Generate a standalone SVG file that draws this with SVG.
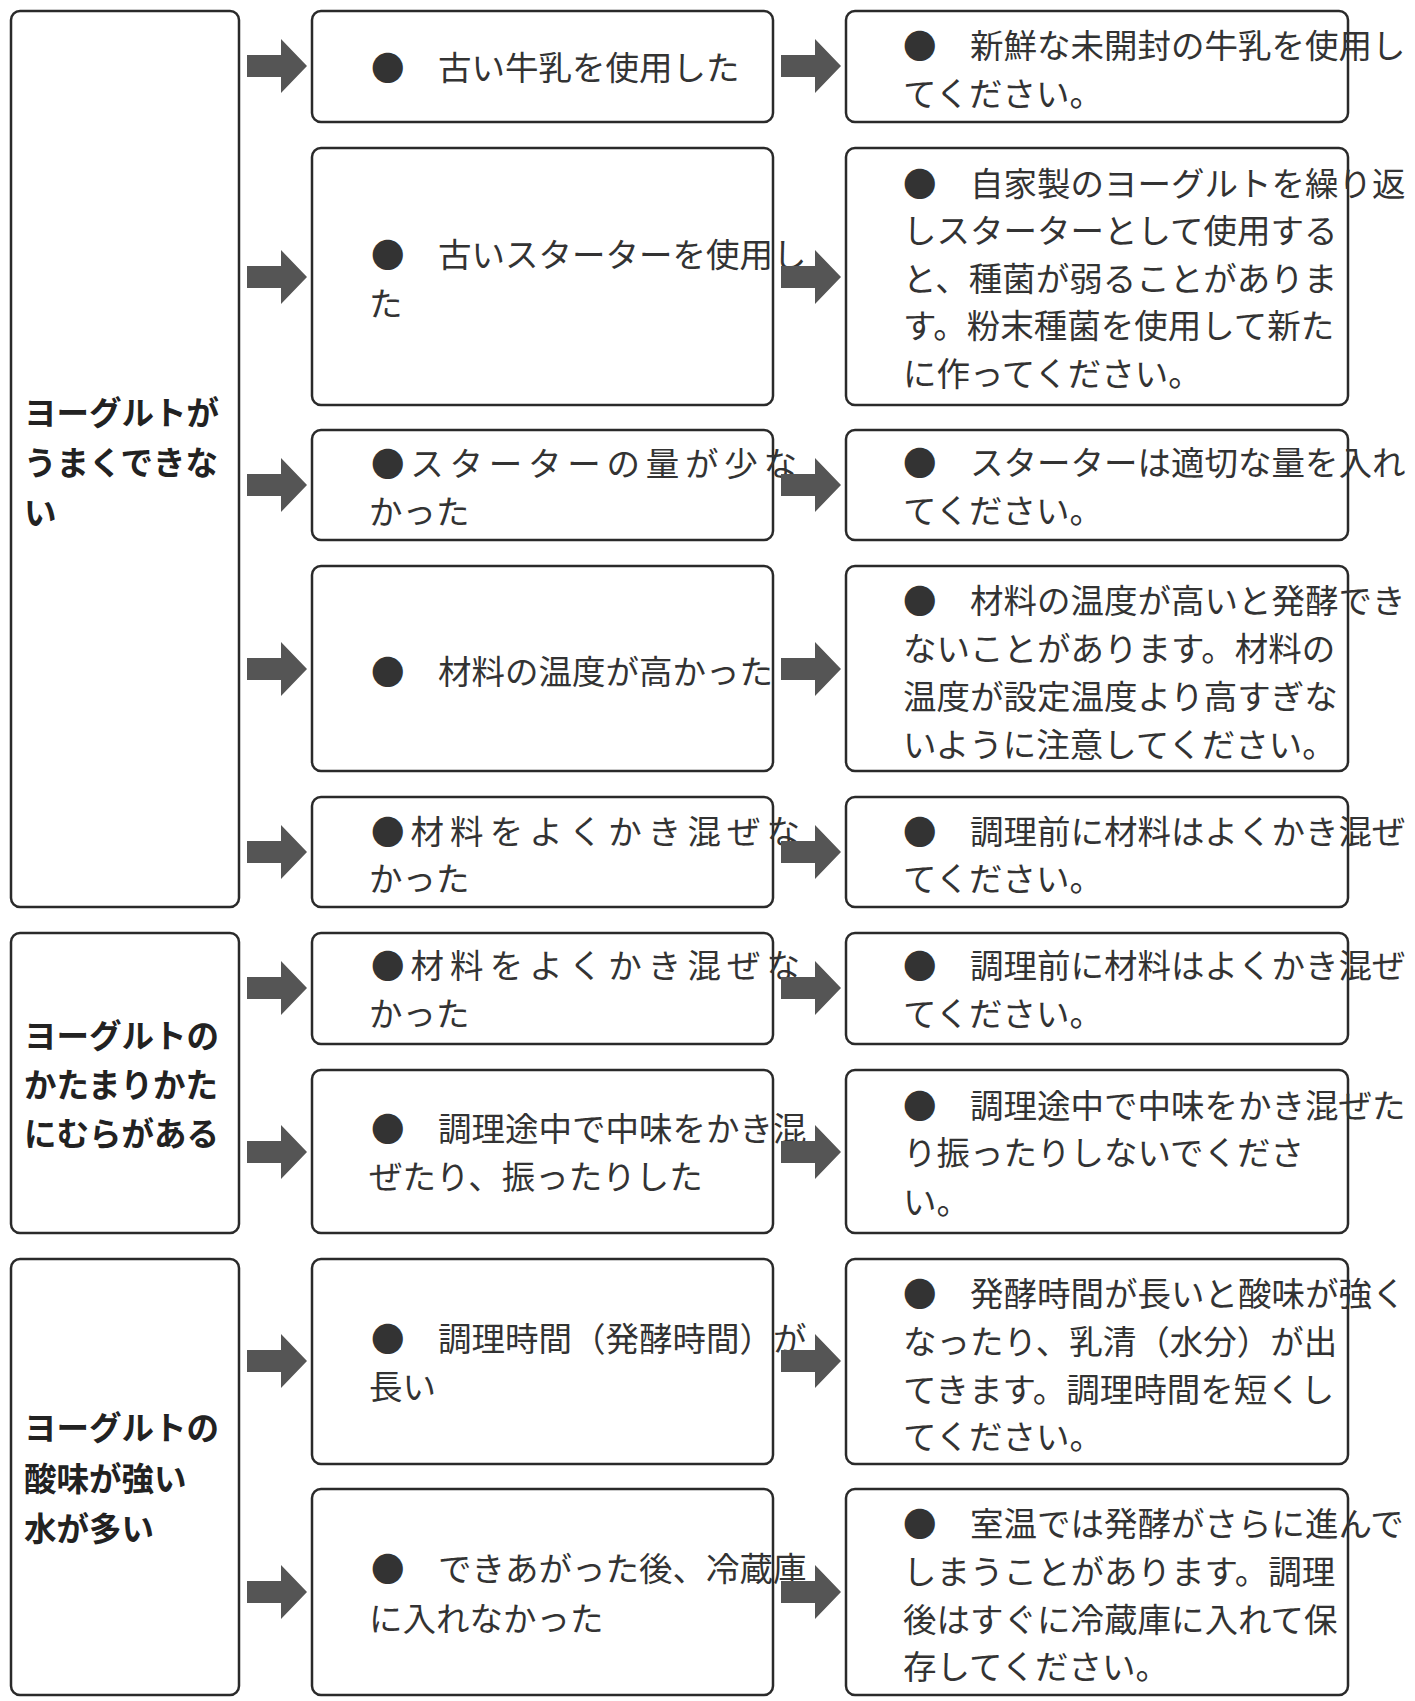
<svg xmlns="http://www.w3.org/2000/svg" width="1415" height="1701" viewBox="0 0 1415 1701">
<style>
.b{fill:#fff;stroke:#2a2a2a;stroke-width:2.5}
.t{font-family:"Noto Sans CJK JP","Liberation Sans",sans-serif;font-size:33.5px;fill:#333;dominant-baseline:central}
.h{font-family:"Noto Sans CJK JP","Liberation Sans",sans-serif;font-size:32.5px;font-weight:bold;fill:#222;dominant-baseline:central}
.a{fill:#555}
</style>
<defs>
<path id="ar" d="M0,-11 H34 V-27 L60,0 L34,27 V11 H0 Z"/>
</defs>
<rect width="1415" height="1701" fill="#fff"/>
<g id="g1"><rect class="b" x="11" y="11" width="228" height="896" rx="9"/><text class="h" x="24" y="410">ヨーグルトが</text><text class="h" x="24" y="460">うまくできな</text><text class="h" x="24" y="510">い</text></g>
<g id="g2"><rect class="b" x="11" y="933" width="228" height="300" rx="9"/><text class="h" x="24" y="1033">ヨーグルトの</text><text class="h" x="24" y="1082">かたまりかた</text><text class="h" x="24" y="1131">にむらがある</text></g>
<g id="g3"><rect class="b" x="11" y="1259" width="228" height="436" rx="9"/><text class="h" x="24" y="1425">ヨーグルトの</text><text class="h" x="24" y="1476">酸味が強い</text><text class="h" x="24" y="1526">水が多い</text></g>

<g id="m1"><rect class="b" x="312" y="11" width="461" height="111" rx="9"/><text class="t" x="371" y="65">●　古い牛乳を使用した</text></g>
<g id="m2"><rect class="b" x="312" y="148" width="461" height="257" rx="9"/><text class="t" x="371" y="252">●　古いスターターを使用し</text><text class="t" x="369" y="301">た</text></g>
<g id="m3"><rect class="b" x="312" y="430" width="461" height="110" rx="9"/><text class="t" x="371" y="461" textLength="426" lengthAdjust="spacing">●スターターの量が少な</text><text class="t" x="369" y="509">かった</text></g>
<g id="m4"><rect class="b" x="312" y="566" width="461" height="205" rx="9"/><text class="t" x="371" y="669">●　材料の温度が高かった</text></g>
<g id="m5"><rect class="b" x="312" y="797" width="461" height="110" rx="9"/><text class="t" x="371" y="829" textLength="429" lengthAdjust="spacing">●材料をよくかき混ぜな</text><text class="t" x="369" y="876">かった</text></g>
<g id="m6"><rect class="b" x="312" y="933" width="461" height="111" rx="9"/><text class="t" x="371" y="963" textLength="429" lengthAdjust="spacing">●材料をよくかき混ぜな</text><text class="t" x="369" y="1011">かった</text></g>
<g id="m7"><rect class="b" x="312" y="1070" width="461" height="163" rx="9"/><text class="t" x="371" y="1126">●　調理途中で中味をかき混</text><text class="t" x="369" y="1174">ぜたり、振ったりした</text></g>
<g id="m8"><rect class="b" x="312" y="1259" width="461" height="205" rx="9"/><text class="t" x="371" y="1336">●　調理時間（発酵時間）が</text><text class="t" x="369" y="1384">長い</text></g>
<g id="m9"><rect class="b" x="312" y="1489" width="461" height="206" rx="9"/><text class="t" x="371" y="1566">●　できあがった後、冷蔵庫</text><text class="t" x="369" y="1616">に入れなかった</text></g>

<g id="r1"><rect class="b" x="846" y="11" width="502" height="111" rx="9"/><text class="t" x="903" y="43">●　新鮮な未開封の牛乳を使用し</text><text class="t" x="903" y="91">てください。</text></g>
<g id="r2"><rect class="b" x="846" y="148" width="502" height="257" rx="9"/><text class="t" x="903" y="181">●　自家製のヨーグルトを繰り返</text><text class="t" x="903" y="228">しスターターとして使用する</text><text class="t" x="903" y="276">と、種菌が弱ることがありま</text><text class="t" x="903" y="323">す。粉末種菌を使用して新た</text><text class="t" x="903" y="371">に作ってください。</text></g>
<g id="r3"><rect class="b" x="846" y="430" width="502" height="110" rx="9"/><text class="t" x="903" y="460">●　スターターは適切な量を入れ</text><text class="t" x="903" y="508">てください。</text></g>
<g id="r4"><rect class="b" x="846" y="566" width="502" height="205" rx="9"/><text class="t" x="903" y="598">●　材料の温度が高いと発酵でき</text><text class="t" x="903" y="646">ないことがあります。材料の</text><text class="t" x="903" y="694">温度が設定温度より高すぎな</text><text class="t" x="903" y="742">いように注意してください。</text></g>
<g id="r5"><rect class="b" x="846" y="797" width="502" height="110" rx="9"/><text class="t" x="903" y="829">●　調理前に材料はよくかき混ぜ</text><text class="t" x="903" y="876">てください。</text></g>
<g id="r6"><rect class="b" x="846" y="933" width="502" height="111" rx="9"/><text class="t" x="903" y="963">●　調理前に材料はよくかき混ぜ</text><text class="t" x="903" y="1011">てください。</text></g>
<g id="r7"><rect class="b" x="846" y="1070" width="502" height="163" rx="9"/><text class="t" x="903" y="1103">●　調理途中で中味をかき混ぜた</text><text class="t" x="903" y="1150">り振ったりしないでくださ</text><text class="t" x="903" y="1199">い。</text></g>
<g id="r8"><rect class="b" x="846" y="1259" width="502" height="205" rx="9"/><text class="t" x="903" y="1291">●　発酵時間が長いと酸味が強く</text><text class="t" x="903" y="1339">なったり、乳清（水分）が出</text><text class="t" x="903" y="1387">てきます。調理時間を短くし</text><text class="t" x="903" y="1434">てください。</text></g>
<g id="r9"><rect class="b" x="846" y="1489" width="502" height="206" rx="9"/><text class="t" x="903" y="1521">●　室温では発酵がさらに進んで</text><text class="t" x="903" y="1569">しまうことがあります。調理</text><text class="t" x="903" y="1617">後はすぐに冷蔵庫に入れて保</text><text class="t" x="903" y="1664">存してください。</text></g>

<g id="connectors" class="a">
<use href="#ar" x="247" y="66"/><use href="#ar" x="781" y="66"/>
<use href="#ar" x="247" y="277"/><use href="#ar" x="781" y="277"/>
<use href="#ar" x="247" y="485"/><use href="#ar" x="781" y="485"/>
<use href="#ar" x="247" y="669"/><use href="#ar" x="781" y="669"/>
<use href="#ar" x="247" y="852"/><use href="#ar" x="781" y="852"/>
<use href="#ar" x="247" y="988"/><use href="#ar" x="781" y="988"/>
<use href="#ar" x="247" y="1152"/><use href="#ar" x="781" y="1152"/>
<use href="#ar" x="247" y="1361"/><use href="#ar" x="781" y="1361"/>
<use href="#ar" x="247" y="1592"/><use href="#ar" x="781" y="1592"/>
</g>
</svg>
